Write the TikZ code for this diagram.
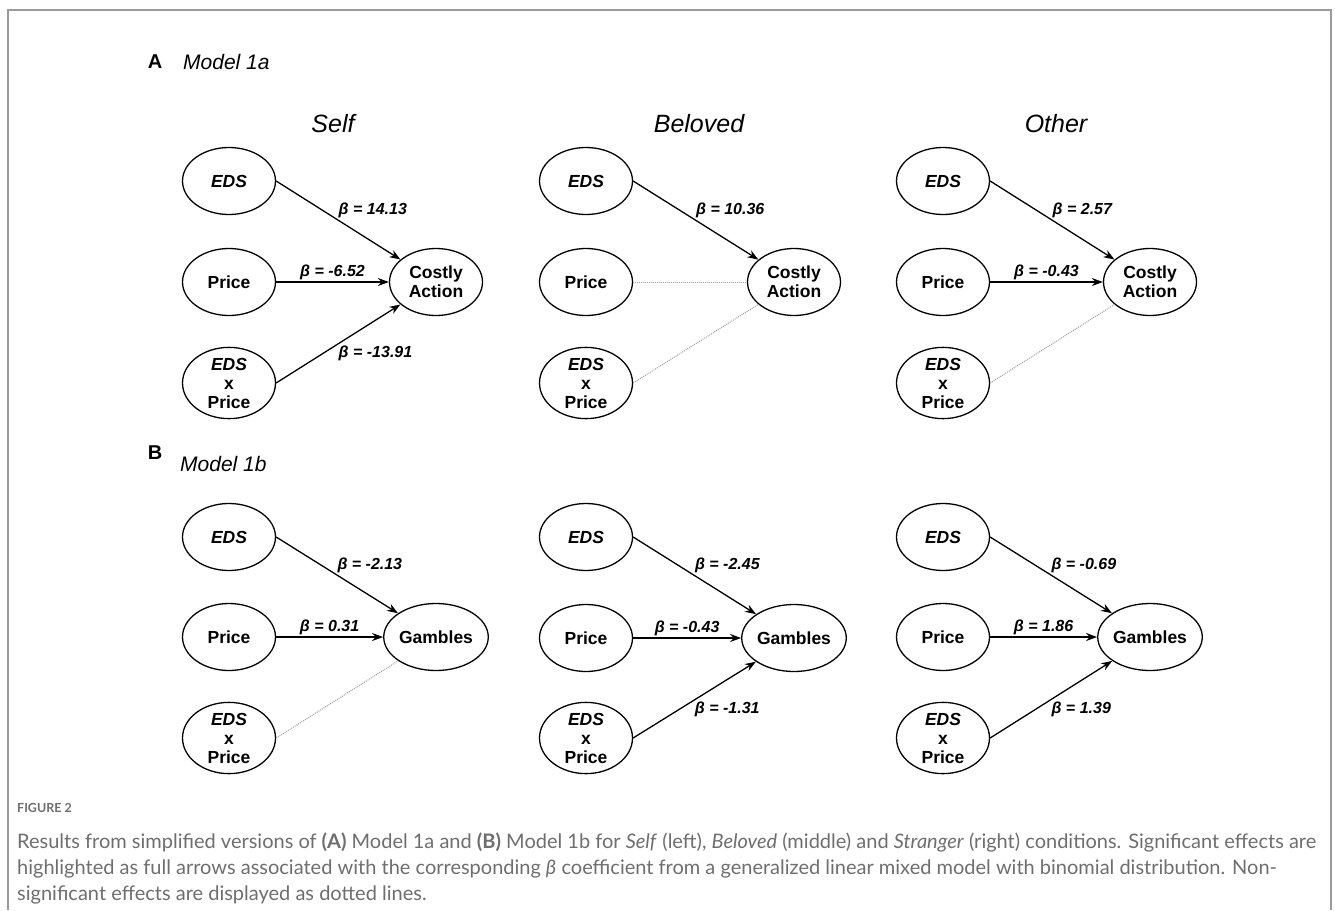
\documentclass[tikz,border=0pt]{standalone}
\usepackage{fontspec}
\setmainfont{Liberation Sans}
\newfontfamily\capfont{Lato}
\usetikzlibrary{arrows.meta,shapes.geometric}

\definecolor{framegray}{HTML}{9A9A9A}
\definecolor{capgray}{HTML}{6E6E6E}

\tikzset{
  var/.style={ellipse, draw, line width=1.3pt, minimum width=93pt, minimum height=67pt,
    inner sep=0pt, align=center, font=\fontsize{17.5}{19}\selectfont\bfseries},
  sig/.style={line width=1.3pt, -{Stealth[length=11pt,width=8pt]}},
  nsig/.style={line width=1pt, densely dotted, gray!75},
  beta/.style={font=\fontsize{16}{18}\selectfont\bfseries\itshape, inner sep=1pt},
  cond/.style={font=\fontsize{25}{28}\selectfont\itshape},
  caption/.style={anchor=west, inner sep=0pt, text=capgray, font=\capfont\fontsize{20}{24}\selectfont},
}

\begin{document}
\begin{tikzpicture}[x=1pt, y=-1pt]
			%%%%% START %%%%%
			\useasboundingbox (0,0) rectangle (1335,910);
			\draw[framegray, line width=1.5pt] (8,910) -- (8,10) -- (1331,10) -- (1331,910);
			
			% panel A
			\node[font=\fontsize{20}{22}\selectfont\bfseries] (lblA) at (155,62) {A};
			\node[anchor=west, inner sep=0pt, font=\fontsize{21}{24}\selectfont\itshape] (modA) at (183,62) {Model 1a};
			\node[cond] (tSelf) at (333,124) {Self};
			\node[cond] (tBel) at (699,124) {Beloved};
			\node[cond] (tOth) at (1056,124) {Other};
			
			\node[var] (a1e) at (229,181) {\textit{EDS}};
			\node[var] (a1p) at (229,282) {Price};
			\node[var] (a1x) at (229,383) {\textit{EDS}\\x\\Price};
			\node[var] (a1o) at (436,282) {Costly\\Action};
			\draw[sig] (a1e.east) -- node[beta, pos=.49, anchor=south west] (a1be) {β = 14.13} (a1o);
			\draw[sig] (a1p) -- node[beta, midway, above=1pt] (a1bp) {β = -6.52} (a1o);
			\draw[sig] (a1x.east) -- node[beta, pos=.49, anchor=north west] (a1bx) {β = -13.91} (a1o);
			
			\node[var] (a2e) at (586,181) {\textit{EDS}};
			\node[var] (a2p) at (586,282) {Price};
			\node[var] (a2x) at (586,383) {\textit{EDS}\\x\\Price};
			\node[var] (a2o) at (794,282) {Costly\\Action};
			\draw[sig] (a2e.east) -- node[beta, pos=.49, anchor=south west] (a2be) {β = 10.36} (a2o);
			\draw[nsig] (a2p) -- (a2o);
			\draw[nsig] (a2x.east) -- (a2o);
			
			\node[var] (a3e) at (943,181) {\textit{EDS}};
			\node[var] (a3p) at (943,282) {Price};
			\node[var] (a3x) at (943,383) {\textit{EDS}\\x\\Price};
			\node[var] (a3o) at (1150,282) {Costly\\Action};
			\draw[sig] (a3e.east) -- node[beta, pos=.49, anchor=south west] (a3be) {β = 2.57} (a3o);
			\draw[sig] (a3p) -- node[beta, midway, above=1pt] (a3bp) {β = -0.43} (a3o);
			\draw[nsig] (a3x.east) -- (a3o);
			
			% panel B
			\node[font=\fontsize{20}{22}\selectfont\bfseries] (lblB) at (155,453) {B};
			\node[anchor=west, inner sep=0pt, font=\fontsize{21}{24}\selectfont\itshape] (modB) at (180,464) {Model 1b};
			
			\node[var] (b1e) at (229,537) {\textit{EDS}};
			\node[var] (b1p) at (229,637) {Price};
			\node[var] (b1x) at (229,738) {\textit{EDS}\\x\\Price};
			\node[var] (b1o) at (436,637) {Gambles};
			\draw[sig] (b1e.east) -- node[beta, pos=.49, anchor=south west] (b1be) {β = -2.13} (b1o);
			\draw[sig] (b1p) -- node[beta, midway, above=1pt] (b1bp) {β = 0.31} (b1o);
			\draw[nsig] (b1x.east) -- (b1o);
			
			\node[var] (b2e) at (586,537) {\textit{EDS}};
			\node[var] (b2p) at (586,638) {Price};
			\node[var] (b2x) at (586,738) {\textit{EDS}\\x\\Price};
			\node[var] (b2o) at (794,638) {Gambles};
			\draw[sig] (b2e.east) -- node[beta, pos=.49, anchor=south west] (b2be) {β = -2.45} (b2o);
			\draw[sig] (b2p) -- node[beta, midway, above=1pt] (b2bp) {β = -0.43} (b2o);
			\draw[sig] (b2x.east) -- node[beta, pos=.49, anchor=north west] (b2bx) {β = -1.31} (b2o);
			
			\node[var] (b3e) at (943,537) {\textit{EDS}};
			\node[var] (b3p) at (943,637) {Price};
			\node[var] (b3x) at (943,738) {\textit{EDS}\\x\\Price};
			\node[var] (b3o) at (1150,637) {Gambles};
			\draw[sig] (b3e.east) -- node[beta, pos=.49, anchor=south west] (b3be) {β = -0.69} (b3o);
			\draw[sig] (b3p) -- node[beta, midway, above=1pt] (b3bp) {β = 1.86} (b3o);
			\draw[sig] (b3x.east) -- node[beta, pos=.49, anchor=north west] (b3bx) {β = 1.39} (b3o);
			
			% caption
			\node[caption, font=\capfont\fontsize{12.5}{15}\selectfont\bfseries] (fig) at (17,808) {FIGURE 2};
			\node[caption] (cap1) at (17,842) {Results from simplified versions of \textbf{(A)} Model 1a and \textbf{(B)} Model 1b for \textit{Self} (left), \textit{Beloved} (middle) and \textit{Stranger} (right) conditions. Significant effects are};
			\node[caption] (cap2) at (17,869) {highlighted as full arrows associated with the corresponding \textit{β} coefficient from a generalized linear mixed model with binomial distribution. Non-};
			\node[caption] (cap3) at (17,895) {significant effects are displayed as dotted lines.};
			%%%%% END %%%%%
\end{tikzpicture}
\end{document}
